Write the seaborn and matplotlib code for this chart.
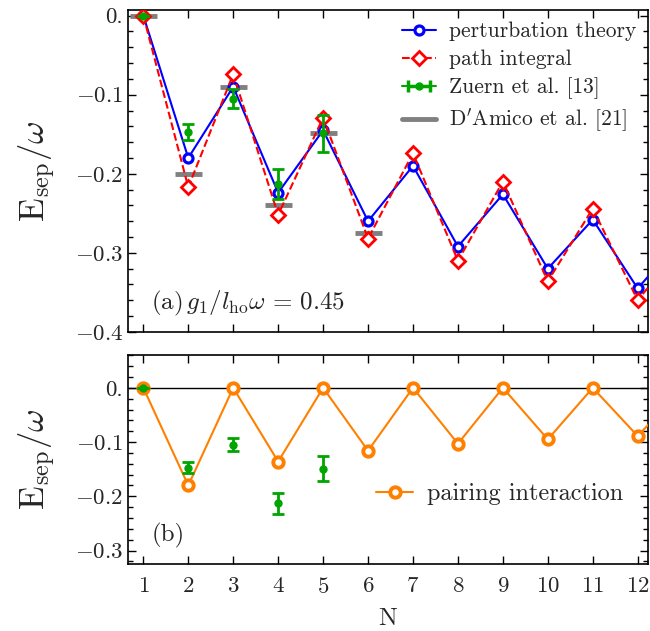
import matplotlib
matplotlib.use('Agg')

import numpy as np
import matplotlib.pyplot as plt
import seaborn as sns
from matplotlib.ticker import MultipleLocator, FuncFormatter

# ------------------------------------------------------------------------
# data
# ------------------------------------------------------------------------

N_theory = [1, 2, 3, 4, 5, 6, 7, 8, 9, 10, 11, 12, 13]
pert_theory = [0.0, -0.180, -0.090, -0.224, -0.145, -0.260, -0.190,
               -0.292, -0.226, -0.320, -0.258, -0.345, -0.280]
path_integral = [0.0, -0.217, -0.074, -0.252, -0.129, -0.282, -0.174,
                 -0.310, -0.210, -0.336, -0.244, -0.360, -0.290]

N_zuern = [1, 2, 3, 4, 5]
zuern = [0.0, -0.147, -0.105, -0.213, -0.149]
zuern_err = [0.0, 0.010, 0.012, 0.019, 0.023]

N_damico = [1, 2, 3, 4, 5, 6]
damico = [0.0, -0.200, -0.090, -0.240, -0.148, -0.275]

pairing = [0.0, -0.180, 0.0, -0.136, 0.0, -0.116, 0.0,
           -0.103, 0.0, -0.095, 0.0, -0.089, 0.0]

# ------------------------------------------------------------------------
# style
# ------------------------------------------------------------------------

sns.set_style("ticks")
plt.rcParams['font.family'] = ['serif']
plt.rcParams['font.serif'] = ['cmr10', 'DejaVu Serif']
plt.rcParams['mathtext.fontset'] = 'cm'
plt.rcParams['axes.unicode_minus'] = False
plt.rcParams['axes.formatter.use_mathtext'] = True
plt.rcParams['font.size'] = 15

blue = '#0000ff'
red = '#ff0000'
green = '#00a500'
gray = '#808080'
orange = '#ff8000'


def ytick_fmt(v, pos):
    if abs(v) < 1e-9:
        return '0.'
    return r'$-%.1f$' % abs(v)


def style_axes(ax):
    ax.tick_params(which='both', direction='in', top=True, right=True,
                   labelsize=16.5, color='black')
    ax.tick_params(which='major', length=6, width=1)
    ax.tick_params(which='minor', length=3.5, width=1)
    ax.tick_params(axis='x', pad=9)
    ax.xaxis.set_major_locator(MultipleLocator(1))
    ax.yaxis.set_major_locator(MultipleLocator(0.1))
    ax.yaxis.set_minor_locator(MultipleLocator(0.02))
    ax.yaxis.set_major_formatter(FuncFormatter(ytick_fmt))
    for s in ax.spines.values():
        s.set_linewidth(1.2)
        s.set_color('black')
    ax.set_xlim(0.66, 12.23)
    ax.set_ylabel(r'$\mathrm{E}_{\mathrm{sep}}/\omega$', fontsize=25, labelpad=12)


fig = plt.figure(figsize=(6.5, 6.31), dpi=100)
ax1 = fig.add_axes([0.197, 0.474, 0.800, 0.510])
ax2 = fig.add_axes([0.197, 0.106, 0.800, 0.331])

# ------------------------------------------------------------------------
# top panel
# ------------------------------------------------------------------------

ax1.hlines(damico, np.array(N_damico) - 0.3, np.array(N_damico) + 0.3,
           color=gray, linewidth=3.5, zorder=2)
sns.lineplot(x=N_theory, y=pert_theory, ax=ax1, color=blue, linewidth=1.5,
             marker='o', markersize=6.5, markerfacecolor='white',
             markeredgecolor=blue, markeredgewidth=2.3, zorder=3,
             label='perturbation theory')
sns.lineplot(x=N_theory, y=path_integral, ax=ax1, color=red, linewidth=1.5,
             linestyle='--', marker='D', markersize=7.5, markerfacecolor='white',
             markeredgecolor=red, markeredgewidth=2.0, zorder=4,
             label='path integral')
ax1.errorbar(N_zuern, zuern, yerr=zuern_err, fmt='o', color=green,
             markersize=5, capsize=4, elinewidth=2, capthick=2, zorder=5)
# legend entry drawn as a horizontal error bar, like in the original
zuern_handle = ax1.errorbar([np.nan], [np.nan], xerr=[0.1], fmt='o-',
                            color=green, markersize=5, capsize=4,
                            elinewidth=2.5, capthick=2.5)
ax1.plot([], [], color=gray, linewidth=3.5, label="D$'$Amico et al. [21]")

h, l = ax1.get_legend_handles_labels()
handles = [h[l.index('perturbation theory')], h[l.index('path integral')],
           zuern_handle, h[l.index("D$'$Amico et al. [21]")]]
labels = ['perturbation theory', 'path integral', 'Zuern et al. [13]',
          "D$'$Amico et al. [21]"]
ax1.legend(handles, labels, loc='upper right', frameon=False, fontsize=15.5,
           handlelength=1.6, handletextpad=0.6, labelspacing=0.38,
           borderaxespad=0.15)

ax1.set_ylim(-0.4, 0.007)
style_axes(ax1)
ax1.tick_params(labelbottom=False)
ax1.text(0.045, 0.07, r'(a)$\,g_1/l_{\mathrm{ho}}\omega\,=\,0.45$',
         transform=ax1.transAxes, fontsize=18)

# ------------------------------------------------------------------------
# bottom panel
# ------------------------------------------------------------------------

ax2.axhline(0, color='black', linewidth=1.0, zorder=1)
sns.lineplot(x=N_theory, y=pairing, ax=ax2, color=orange, linewidth=1.5,
             marker='o', markersize=7.5, markerfacecolor='white',
             markeredgecolor=orange, markeredgewidth=2.8, zorder=3,
             label='pairing interaction')
ax2.errorbar(N_zuern, zuern, yerr=zuern_err, fmt='o', color=green,
             markersize=5, capsize=4, elinewidth=2, capthick=2, zorder=5)
ax2.legend(loc='center right', bbox_to_anchor=(0.995, 0.335), frameon=False,
           fontsize=17.5, handlelength=1.5, handletextpad=0.6)

ax2.set_ylim(-0.325, 0.06)
style_axes(ax2)
ax2.set_xlabel('N', fontsize=18, labelpad=8)
ax2.text(0.045, 0.11, '(b)', transform=ax2.transAxes, fontsize=18)

fig.savefig('out.png', dpi=100)
